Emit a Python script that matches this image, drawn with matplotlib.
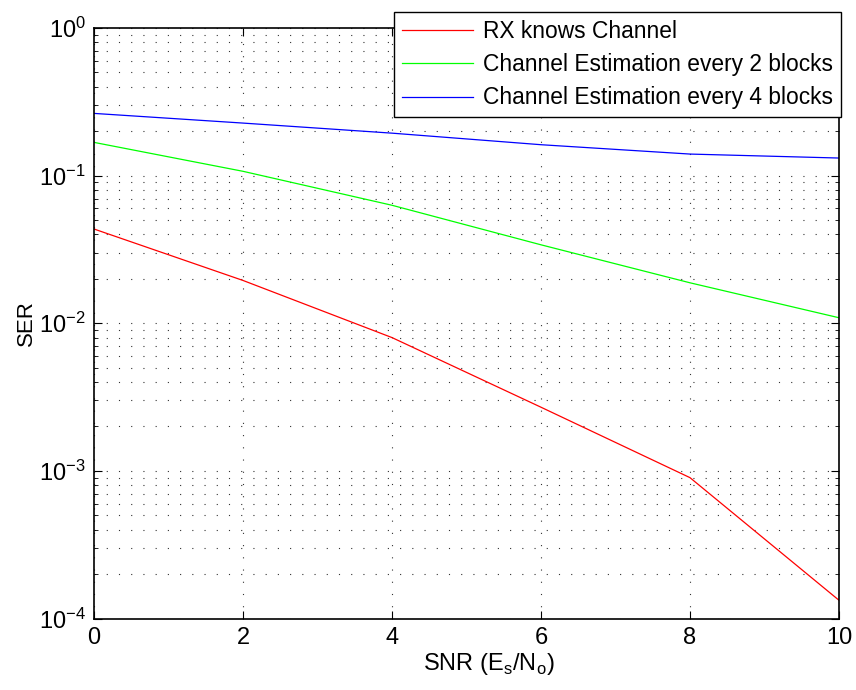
import numpy as np
import matplotlib
matplotlib.use("Agg")
import matplotlib.pyplot as plt
from matplotlib.ticker import LogLocator, NullFormatter

# Data
snr = [0, 2, 4, 6, 8, 10]
ser_known = [0.0435, 0.0195, 0.0080, 0.0027, 0.00090, 0.000133]
ser_est2 = [0.168, 0.107, 0.063, 0.034, 0.0188, 0.0109]
ser_est4 = [0.264, 0.227, 0.194, 0.162, 0.140, 0.1316]
labels = ["RX knows Channel",
          "Channel Estimation every 2 blocks",
          "Channel Estimation every 4 blocks"]

plt.rcParams['font.family'] = ['Liberation Sans', 'DejaVu Sans']
plt.rcParams['mathtext.fontset'] = 'custom'
plt.rcParams['mathtext.rm'] = 'Liberation Sans'

fig = plt.figure(figsize=(8.56, 6.9), dpi=100)
ax = fig.add_axes([0.1098, 0.1036, 0.8703, 0.8558])

ax.semilogy(snr, ser_known, color='#ff0000', lw=0.9, label=labels[0])
ax.semilogy(snr, ser_est2, color='#00ff00', lw=0.9, label=labels[1])
ax.semilogy(snr, ser_est4, color='#0000ff', lw=0.9, label=labels[2])

ax.set_xlim(0, 10)
ax.set_ylim(1e-4, 1)
ax.set_xticks([0, 2, 4, 6, 8, 10])
ax.yaxis.set_major_locator(LogLocator(base=10, numticks=10))
ax.yaxis.set_minor_locator(LogLocator(base=10, subs=np.arange(2, 10), numticks=20))
ax.yaxis.set_minor_formatter(NullFormatter())

# Grid on, MATLAB style dotted
ax.grid(True, which='major', axis='both', linestyle=(0, (1, 10)), color='#333333', lw=0.8)
ax.grid(True, which='minor', axis='y', linestyle=(0, (1, 10)), color='#333333', lw=0.8)

ax.tick_params(which='both', direction='in', top=True, right=True, labelsize=17)
ax.tick_params(which='major', length=6, width=0.8, pad=6)
ax.tick_params(which='minor', length=3, width=0.6)
for s in ax.spines.values():
    s.set_linewidth(1.2)

ax.set_xlabel(r'SNR (E$_\mathregular{s}$/N$_\mathregular{o}$)', fontsize=17)
ax.xaxis.set_label_coords(0.53, -0.055)
ax.set_ylabel('SER', fontsize=16)
ax.yaxis.set_label_coords(-0.0764, 0.5)

leg = ax.legend(loc='upper right', bbox_to_anchor=(0.9825, 0.9826),
                bbox_transform=fig.transFigure, borderaxespad=0,
                fontsize=16.4, handlelength=3.1, fancybox=False,
                framealpha=1, edgecolor='black', labelspacing=0.45,
                borderpad=0.35, handletextpad=0.45)
leg.get_frame().set_linewidth(1.0)

fig.savefig("out.png", dpi=100)
